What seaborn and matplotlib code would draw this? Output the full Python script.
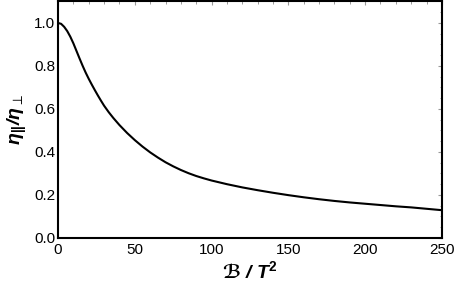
import numpy as np
import pandas as pd
import seaborn as sns
import matplotlib
matplotlib.use('Agg')
from matplotlib import pyplot as plt
from matplotlib.ticker import MultipleLocator

# values
b_vals = [0, 2, 4, 6, 8, 10, 12, 14, 16, 18, 20, 22, 24, 26, 28, 30, 33, 36,
          40, 45, 50, 55, 60, 65, 70, 75, 80, 85, 90, 95, 100, 110, 120, 130,
          140, 150, 160, 170, 180, 190, 200, 210, 220, 230, 240, 250]
ratio_vals = [1.0, 0.996, 0.982, 0.962, 0.936, 0.905, 0.87, 0.835, 0.801, 0.769,
              0.74, 0.713, 0.687, 0.662, 0.638, 0.615, 0.585, 0.558,
              0.525, 0.488, 0.455, 0.425, 0.398, 0.374, 0.352, 0.333, 0.316,
              0.301, 0.288, 0.277, 0.267, 0.25, 0.235, 0.222,
              0.21, 0.199, 0.189, 0.18, 0.172, 0.165, 0.159, 0.153, 0.147,
              0.142, 0.1355, 0.129]
x_ticks = [0, 50, 100, 150, 200, 250]
y_ticks = [0.0, 0.2, 0.4, 0.6, 0.8, 1.0]

df = pd.DataFrame({'B': b_vals, 'ratio': ratio_vals})

sns.set_style('white')
plt.rcParams['font.family'] = ['Liberation Sans', 'DejaVu Sans']
plt.rcParams['mathtext.fontset'] = 'custom'
plt.rcParams['mathtext.rm'] = 'Liberation Sans:bold'
plt.rcParams['mathtext.it'] = 'Liberation Sans:bold:italic'
plt.rcParams['mathtext.bf'] = 'Liberation Sans:bold'
plt.rcParams['mathtext.cal'] = 'DejaVu Sans:bold:italic'
plt.rcParams['mathtext.fallback'] = 'stix'

fig = plt.figure(figsize=(4.57, 2.93), dpi=100)
ax = fig.add_axes([0.127, 0.188, 0.840, 0.807])

sns.lineplot(data=df, x='B', y='ratio', ax=ax, color='black', linewidth=1.5)

ax.set_xlim(0, 250)
ax.set_ylim(0, 1.1)
ax.set_xticks(x_ticks)
ax.set_yticks(y_ticks)
ax.set_yticklabels([f"{t:.1f}" for t in y_ticks])
ax.xaxis.set_minor_locator(MultipleLocator(10))
ax.yaxis.set_minor_locator(MultipleLocator(0.05))

ax.tick_params(which='both', direction='in', top=True, right=True,
               color='#999999', labelcolor='black', labelsize=11)
ax.tick_params(axis='x', which='both', pad=4)
ax.tick_params(axis='y', which='both', pad=2)
ax.tick_params(which='major', length=3, width=0.8)
ax.tick_params(which='minor', length=1.8, width=0.7)

for s in ax.spines.values():
    s.set_color('black')
    s.set_linewidth(1.5)
    s.set_zorder(3)

ax.set_xlabel(r'$\mathcal{ℬ}$ / T$^{2}$', fontsize=14, fontweight='bold',
              style='italic', color='black', labelpad=2)
ax.set_ylabel(r'η$_{||}$/η$_{\perp}$', fontsize=14, fontweight='bold',
              style='italic', color='black', labelpad=4)

fig.savefig('out.png', dpi=100)
